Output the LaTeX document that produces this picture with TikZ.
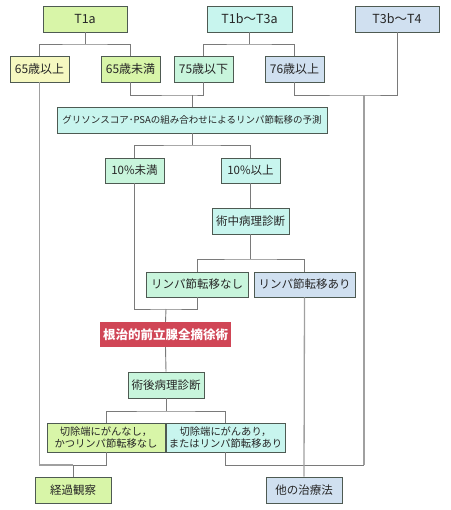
\documentclass[tikz,border=0pt]{standalone}
\usepackage{fontspec}
\setmainfont{Noto Sans CJK JP}
\definecolor{cYG}{HTML}{D8F5A8}
\definecolor{cYP}{HTML}{F5F8C0}
\definecolor{cCY}{HTML}{C8F5EE}
\definecolor{cMN}{HTML}{C8F5DC}
\definecolor{cBL}{HTML}{D0E0F0}
\definecolor{cRD}{HTML}{D04656}
\definecolor{cLN}{HTML}{7A7A7A}
\definecolor{cLO}{HTML}{A0A0A0}
\definecolor{cBD}{HTML}{4E5A52}
\tikzset{
  bx/.style={draw=cBD, line width=0.8pt, inner sep=0pt, align=center, font=\fontsize{11.5}{13}\selectfont, text=black!85},
  ln/.style={draw=cLN, line width=0.9pt},
  lo/.style={draw=cLO, line width=1.3pt},
}
\begin{document}
\begin{tikzpicture}[x=1pt,y=-1pt]
\useasboundingbox (0,0) rectangle (450,510);
% top row
\node[bx, fill=cYG, minimum width=84pt, minimum height=26pt, font=\fontsize{12.5}{14}\selectfont] (t1a) at (85,19) {T1a};
\node[bx, fill=cCY, minimum width=85pt, minimum height=26pt, font=\fontsize{12.5}{14}\selectfont] (t1b) at (249.5,19) {T1b〜T3a};
\node[bx, fill=cBL, minimum width=84pt, minimum height=26pt, font=\fontsize{12.5}{14}\selectfont] (t3b) at (397,19) {T3b〜T4};
% ages
\node[bx, fill=cYP, minimum width=59pt, minimum height=26pt, font=\fontsize{12}{14}\selectfont] (a65u) at (39.5,69) {65歳以上};
\node[bx, fill=cYG, minimum width=59pt, minimum height=26pt, font=\fontsize{12}{14}\selectfont] (a65l) at (130.5,69) {65歳未満};
\node[bx, fill=cMN, minimum width=59pt, minimum height=26pt, font=\fontsize{12}{14}\selectfont] (a75) at (203.5,69) {75歳以下};
\node[bx, fill=cBL, minimum width=59pt, minimum height=26pt, font=\fontsize{12}{14}\selectfont] (a76) at (294.5,69) {76歳以上};
% prediction
\node[bx, fill=cCY, minimum width=270pt, minimum height=26pt, font=\fontsize{9.5}{11}\selectfont] (pred) at (192,120) {グリソンスコア･PSAの組み合わせによるリンパ節転移の予測};
\node[bx, fill=cMN, minimum width=59pt, minimum height=25pt] (p10l) at (134.5,170.5) {10\%未満};
\node[bx, fill=cCY, minimum width=59pt, minimum height=25pt] (p10u) at (250.5,170.5) {10\%以上};
\node[bx, fill=cCY, minimum width=77pt, minimum height=26pt] (intra) at (250.5,221) {術中病理診断};
\node[bx, fill=cMN, minimum width=102pt, minimum height=25pt] (lnneg) at (197,284.5) {リンパ節転移なし};
\node[bx, fill=cBL, minimum width=101pt, minimum height=25pt] (lnpos) at (304.5,284.5) {リンパ節転移あり};
\node[fill=cRD, inner sep=0pt, minimum width=131pt, minimum height=25pt, text=white, font=\fontsize{12.5}{14}\selectfont\bfseries] (rp) at (165.5,334.5) {根治的前立腺全摘徐術};
\node[bx, fill=cMN, minimum width=76pt, minimum height=26pt] (post) at (166,385) {術後病理診断};
\node[bx, fill=cYG, minimum width=118pt, minimum height=29pt, font=\fontsize{10.3}{12.5}\selectfont] (mneg) at (106,437.5) {切除端にがんなし，\\かつリンパ節転移なし};
\node[bx, fill=cCY, minimum width=119pt, minimum height=29pt, font=\fontsize{10.3}{12.5}\selectfont] (mpos) at (225.5,437.5) {切除端にがんあり，\\またはリンパ節転移あり};
\node[bx, fill=cYG, minimum width=76pt, minimum height=26pt] (obs) at (73,490) {経過観察};
\node[bx, fill=cBL, minimum width=76pt, minimum height=26pt] (oth) at (304,490) {他の治療法};
% junctions
\coordinate (j1) at (85,44);
\coordinate (j2) at (249.5,44);
\coordinate (j3) at (192,95);
\coordinate (j4) at (364,95);
\coordinate (j5) at (192,145);
\coordinate (j6) at (250.5,259);
\coordinate (j7) at (166,309);
\coordinate (j8) at (166,411);
\coordinate (j9) at (364,465);
\coordinate (j10) at (73,465);
% connectors
\draw[ln] (t1a.south) -- (j1);
\draw[ln] (a65u.north) |- (j1) -| (a65l.north);
\draw[ln] (t1b.south) -- (j2);
\draw[ln] (a75.north) |- (j2) -| (a76.north);
\draw[ln] (a65l.south) |- (j3) -| (a75.south);
\draw[ln] (j3) -- (pred.north);
\draw[ln] (a76.south) |- (j4) -| (t3b.south);
\draw[lo] (j4) -- (j9);
\draw[ln] (j9) -| (mpos.south);
\draw[ln] (pred.south) -- (j5);
\draw[ln] (p10l.north) |- (j5) -| (p10u.north);
\draw[ln] (p10u.south) -- (intra.north);
\draw[ln] (intra.south) -- (j6);
\draw[ln] (lnneg.north) |- (j6) -| (lnpos.north);
\draw[ln] (p10l.south) |- (j7) -| (lnneg.south);
\draw[ln] (j7) -- (rp.north);
\draw[ln] (rp.south) -- (post.north);
\draw[ln] (post.south) -- (j8);
\draw[ln] (mneg.north) |- (j8) -| (mpos.north);
\draw[lo] (a65u.south) |- (j10);
\draw[ln] (mneg.south) |- (j10);
\draw[ln] (j10) -- (obs.north);
\draw[lo] (lnpos.south) -- (oth.north);
\end{tikzpicture}
\end{document}
